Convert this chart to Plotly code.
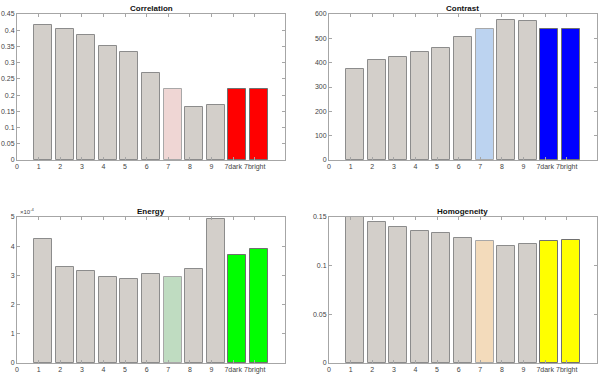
import plotly.graph_objects as go

categories = ["1", "2", "3", "4", "5", "6", "7", "8", "9", "7dark", "7bright"]

correlation = [0.417, 0.404, 0.384, 0.352, 0.333, 0.267, 0.220, 0.162, 0.170, 0.219, 0.218]
contrast = [373, 411, 423, 445, 459, 504, 537, 577, 570, 537, 537]
energy = [4.25e-4, 3.28e-4, 3.15e-4, 2.96e-4, 2.88e-4, 3.05e-4, 2.93e-4, 3.22e-4, 4.92e-4, 3.70e-4, 3.90e-4]
homogeneity = [0.1497, 0.1446, 0.1398, 0.1360, 0.1340, 0.1280, 0.1250, 0.1200, 0.1227, 0.1258, 0.1261]

titles = ["Correlation", "Contrast", "Energy", "Homogeneity"]
series = [correlation, contrast, energy, homogeneity]
y_max = [0.45, 600, 5e-4, 0.15]
y_ticks = [
    [0, 0.05, 0.1, 0.15, 0.2, 0.25, 0.3, 0.35, 0.4, 0.45],
    [0, 100, 200, 300, 400, 500, 600],
    [0, 1e-4, 2e-4, 3e-4, 4e-4, 5e-4],
    [0, 0.05, 0.1, 0.15],
]
y_ticktext = [
    ["0", "0.05", "0.1", "0.15", "0.2", "0.25", "0.3", "0.35", "0.4", "0.45"],
    ["0", "100", "200", "300", "400", "500", "600"],
    ["0", "1", "2", "3", "4", "5"],
    ["0", "0.05", "0.1", "0.15"],
]
light7 = ["#efd6d4", "#bcd3f0", "#bfdcc1", "#f3dbbb"]
strong = ["#ff0000", "#0000ff", "#00ff00", "#ffff00"]
gray = "#d3cfca"

W, H = 600, 378
xdom = [(17, 285), (329, 597), (17, 285), (329, 597)]
ydom = [(14, 160), (14, 160), (217, 363), (217, 363)]
BAR_W = 0.83
BAR_SHIFT = 0.2

fig = go.Figure()
xpos = list(range(1, len(categories) + 1))
for i in range(4):
    colors = [gray] * 6 + [light7[i]] + [gray] * 2 + [strong[i]] * 2
    lines = ["#8c8c8c"] * 6 + ["#a8a8a8"] + ["#8c8c8c"] * 2 + ["#707070"] * 2
    ax = "" if i == 0 else str(i + 1)
    fig.add_trace(go.Bar(
        x=xpos, y=series[i], width=BAR_W, offset=-BAR_W / 2 + BAR_SHIFT,
        marker=dict(color=colors, line=dict(color=lines, width=1)),
        xaxis="x" + ax, yaxis="y" + ax, showlegend=False, hoverinfo="y",
    ))
    x0, x1 = xdom[i]
    y0, y1 = ydom[i]
    axis_common = dict(
        showgrid=False, zeroline=False, showline=True, linecolor="#a6a6a6", linewidth=1,
        mirror="ticks", ticks="inside", ticklen=3, tickcolor="#a6a6a6", automargin=False,
        tickfont=dict(family="Liberation Sans, Arial", size=7, color="#444444"),
    )
    fig.layout["xaxis" + ax] = dict(
        axis_common, domain=[x0 / W, x1 / W], range=[0, 12.4], anchor="y" + ax,
        tickvals=[0] + xpos, ticktext=["0"] + categories, tickangle=0,
    )
    fig.layout["yaxis" + ax] = dict(
        axis_common, domain=[1 - y1 / H, 1 - y0 / H], range=[0, y_max[i]], anchor="x" + ax,
        tickvals=y_ticks[i], ticktext=y_ticktext[i],
    )
    fig.add_annotation(
        text="<b>" + titles[i] + "</b>", x=(x0 + x1) / 2 / W, y=1 - y0 / H,
        xref="paper", yref="paper", xanchor="center", yanchor="bottom", yshift=-1,
        showarrow=False, font=dict(family="Liberation Sans, Arial", size=8, color="#111111"),
    )

fig.add_annotation(
    text="×10<sup>-4</sup>", x=18 / W, y=1 - 217 / H, xref="paper", yref="paper",
    xanchor="left", yanchor="bottom", showarrow=False,
    font=dict(family="Liberation Sans, Arial", size=6, color="#444444"),
)

fig.update_layout(
    width=W, height=H, margin=dict(l=0, r=0, t=0, b=0, autoexpand=False),
    paper_bgcolor="white", plot_bgcolor="white", bargap=0,
)
fig.write_html("out.html", config={"displayModeBar": False},
               post_script="document.body.style.margin='0';")
